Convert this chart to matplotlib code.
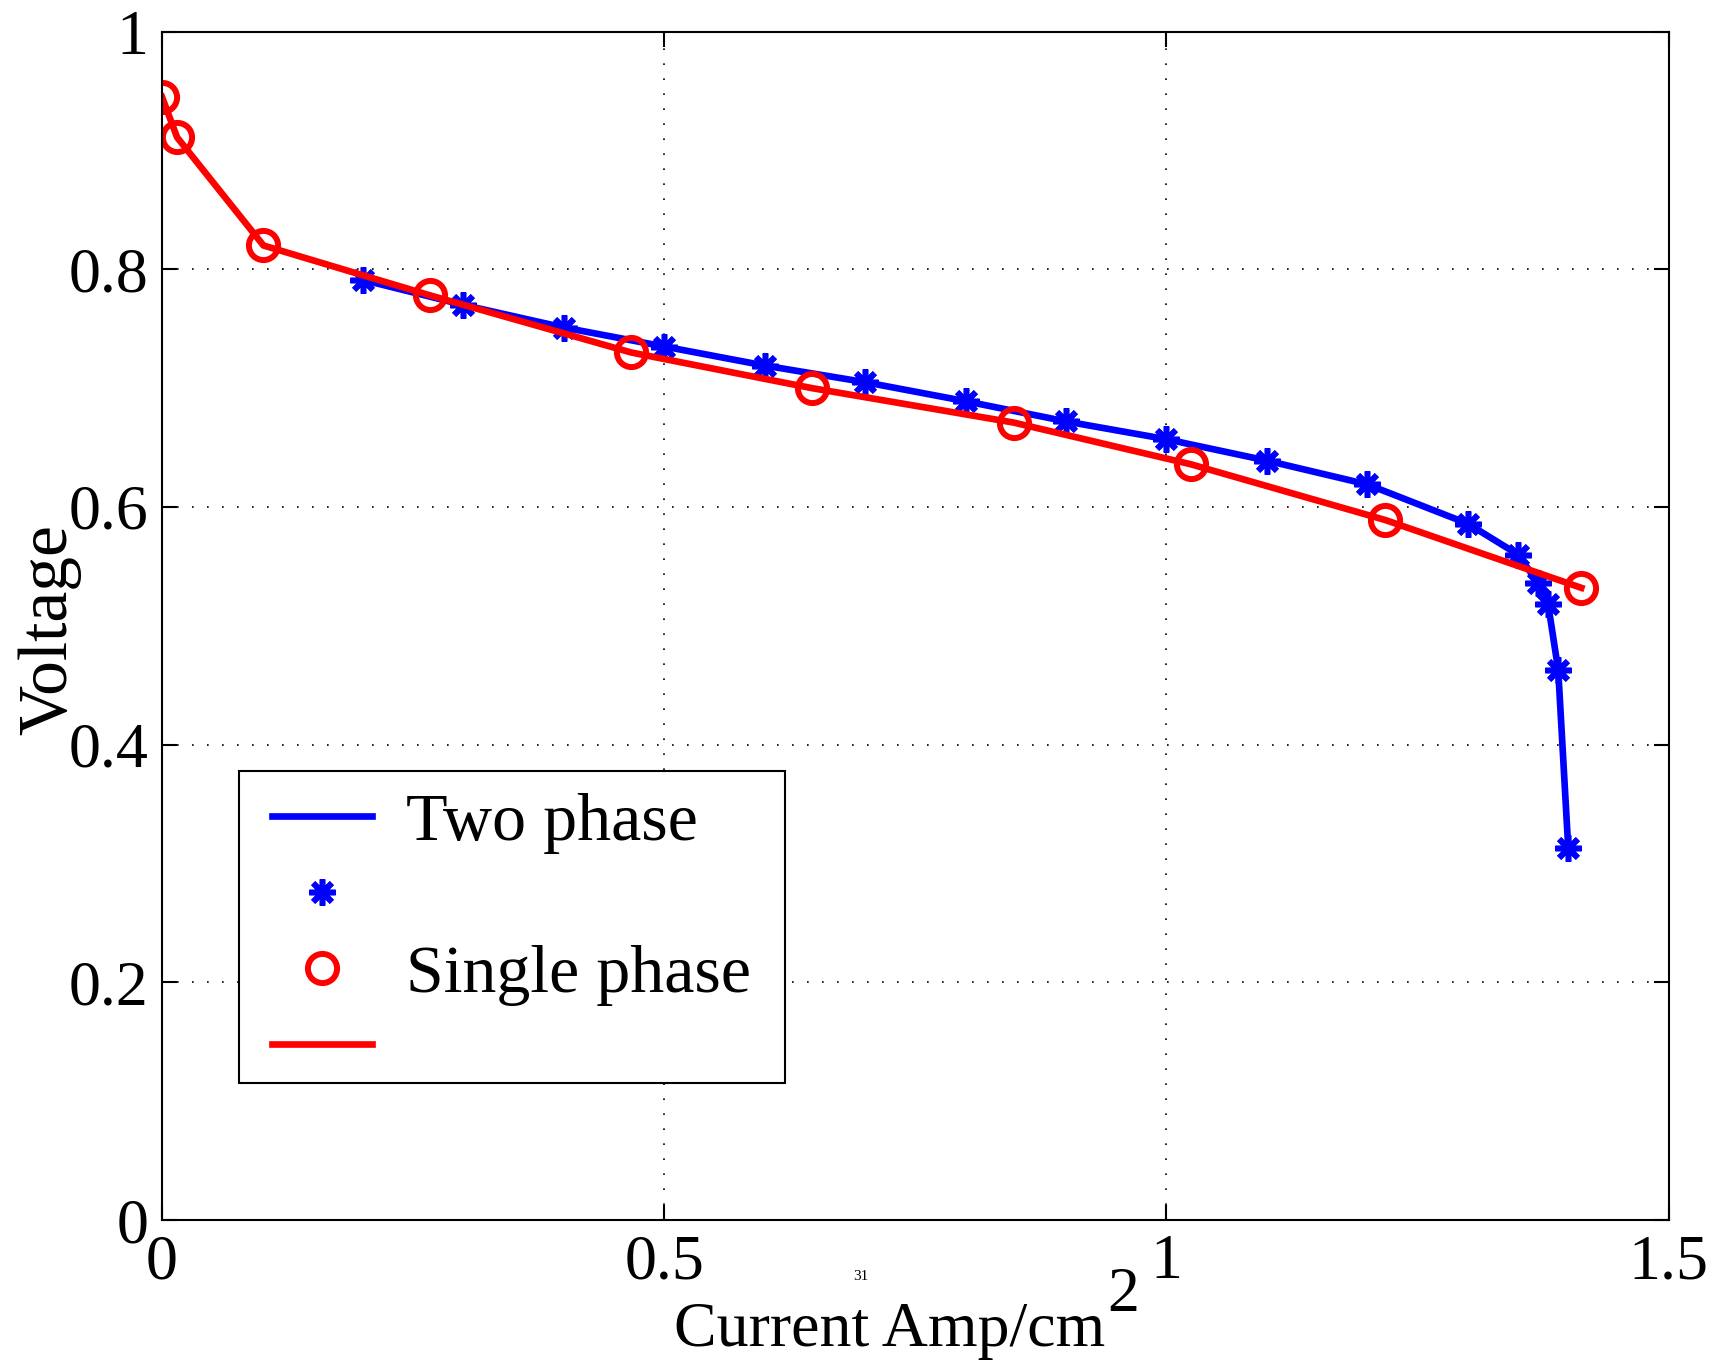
import matplotlib
matplotlib.use("Agg")
import matplotlib.pyplot as plt
from matplotlib.patches import Rectangle

plt.rcParams['font.family'] = ['Liberation Serif', 'DejaVu Serif']

# two phase model (blue stars)
two_x = [0.2, 0.3, 0.4, 0.5, 0.6, 0.7, 0.8, 0.9, 1.0, 1.1, 1.2, 1.3, 1.35, 1.37, 1.38, 1.39, 1.40]
two_v = [0.791, 0.770, 0.751, 0.735, 0.719, 0.705, 0.689, 0.672, 0.657, 0.639, 0.619, 0.586, 0.560, 0.536, 0.518, 0.463, 0.313]

# single phase model (red circles)
one_x = [0.0, 0.015, 0.101, 0.267, 0.467, 0.647, 0.848, 1.024, 1.218, 1.413]
one_v = [0.945, 0.911, 0.820, 0.778, 0.730, 0.700, 0.671, 0.636, 0.589, 0.532]

xticks = [0, 0.5, 1, 1.5]
yticks = [0, 0.2, 0.4, 0.6, 0.8, 1]
xtick_labels = ['0', '0.5', '1', '1.5']
ytick_labels = ['0', '0.2', '0.4', '0.6', '0.8', '1']

fig = plt.figure(figsize=(17.18, 13.71), dpi=100)
ax = fig.add_axes([0.0943, 0.110, 0.877, 0.867])

star = (8, 2, 0)
ax.plot(two_x, two_v, '-', color='blue', lw=4.8, label='Two phase')
ax.plot(two_x, two_v, ls='none', marker=star, color='blue', ms=19, mew=4, label=' ')
ax.plot(one_x, one_v, ls='none', marker='o', mfc='none', mec='red', ms=21, mew=4.3, label='Single phase')
ax.plot(one_x, one_v, '-', color='red', lw=4.8, label=' ')

ax.set_xlim(0, 1.5)
ax.set_ylim(0, 1)
ax.set_xticks(xticks)
ax.set_xticklabels(xtick_labels)
ax.set_yticks(yticks)
ax.set_yticklabels(ytick_labels)
ax.grid(True, color='black', lw=1.2, linestyle=(0, (1, 8)))
ax.tick_params(direction='in', length=11, width=1.5, labelsize=46, pad=10,
               top=True, right=True)
for s in ax.spines.values():
    s.set_linewidth(1.5)

ax.set_xlabel('Current Amp/cm', fontsize=46)
ax.xaxis.set_label_coords(0.483, -0.093)
ax.xaxis.label.set_va('center')
# raised, full size "2" like the original
ax.annotate('2', xy=(1, 0), xycoords=ax.xaxis.label, xytext=(1, 25),
            textcoords='offset points', ha='left', va='bottom', fontsize=46)
ax.set_ylabel('Voltage', fontsize=50)
ax.yaxis.set_label_coords(-0.075, 0.497)
ax.yaxis.label.set_va('center')

# legend box drawn by hand (matlab style padding), entries without frame
ax.add_patch(Rectangle((0.051, 0.1158), 0.3622, 0.2618, transform=ax.transAxes,
                       facecolor='white', edgecolor='black', lw=1.5, zorder=4))
leg = ax.legend(loc='upper left', bbox_to_anchor=(0.0728, 0.360),
                fontsize=49, frameon=False, handlelength=1.48, borderpad=0,
                labelspacing=0.21, handletextpad=0.5, borderaxespad=0)
leg.set_zorder(5)

fig.text(861 / 1718, 1 - 1276 / 1371, '31', fontsize=11, ha='center', va='center')

fig.savefig('out.png', dpi=100)
